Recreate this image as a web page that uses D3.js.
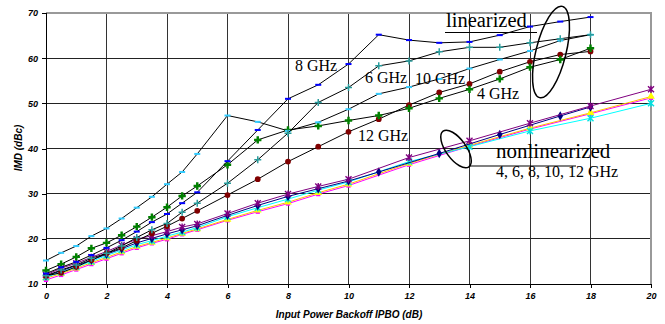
<!DOCTYPE html>
<html>
<head>
<meta charset="utf-8">
<script src="https://cdn.jsdelivr.net/npm/d3@7"></script>
<style>
  body { margin: 0; background: #fff; }
</style>
</head>
<body>
<div class="chart"></div>
<script>
// linearized curves (black lines, coloured markers)
const linX = [0, 0.5, 1, 1.5, 2, 2.5, 3, 3.5, 4, 4.5, 5, 6, 7, 8, 9, 10, 11, 12, 13, 14, 15, 16, 17, 18];
const lin8GHz = [12.3, 13.7, 14.9, 16.4, 18.0, 19.7, 21.6, 23.7, 25.5, 27.9, 30.3, 37.2, 44.1, 51.0, 54.1, 58.7, 65.2, 64.0, 63.4, 63.6, 65.1, 67.0, 68.1, 69.1];
const lin6GHz = [11.8, 13.1, 14.2, 15.7, 16.8, 18.4, 20.3, 22.0, 23.4, 25.9, 27.9, 32.3, 37.5, 43.4, 50.2, 53.5, 58.3, 59.4, 61.4, 62.4, 62.4, 63.4, 64.3, 65.2];
const lin10GHz = [15.2, 16.9, 18.4, 20.6, 22.3, 24.5, 26.9, 29.3, 32.1, 34.8, 38.8, 47.3, 45.9, 43.9, 45.8, 48.7, 52.1, 53.6, 55.4, 57.7, 59.7, 61.6, 63.9, 65.2];
const lin4GHz = [13.0, 14.4, 16.0, 17.9, 19.1, 20.8, 22.7, 24.8, 27.0, 29.5, 31.7, 36.4, 41.9, 44.1, 45.0, 46.2, 47.3, 48.9, 51.1, 53.1, 55.4, 58.0, 59.7, 62.2];
const lin12GHz = [11.8, 12.5, 13.8, 15.3, 16.8, 18.0, 19.6, 21.2, 22.8, 24.5, 26.2, 29.7, 33.2, 37.1, 40.4, 43.7, 46.5, 49.6, 52.4, 54.3, 57.0, 59.2, 60.8, 61.5];

// nonlinearized curves (coloured lines)
const nlX = [0, 0.5, 1, 1.5, 2, 2.5, 3, 3.5, 4, 4.5, 5, 6, 7, 8, 9, 10, 12, 14, 16, 18, 20];
const nlNavyX = [0, 0.5, 1, 1.5, 2, 2.5, 3, 3.5, 4, 4.5, 5, 6, 7, 8, 9, 10, 11, 13, 15, 17, 18];
const nlMagenta = [10.9, 12.0, 13.2, 14.4, 15.6, 16.8, 18.0, 19.0, 19.9, 21.0, 22.0, 24.1, 26.0, 27.8, 29.9, 31.8, 36.4, 40.5, 44.3, 47.7, 51.2];
const nlYellow = [11.3, 12.3, 13.5, 14.7, 15.9, 17.1, 18.3, 19.2, 20.2, 21.2, 22.2, 24.3, 26.3, 28.1, 30.2, 32.1, 36.7, 40.7, 44.5, 47.9, 51.5];
const nlCyan = [11.5, 12.6, 13.8, 15.0, 16.3, 17.5, 18.7, 19.6, 20.6, 21.5, 22.5, 24.9, 26.9, 28.8, 30.8, 32.6, 37.1, 40.4, 43.9, 46.7, 50.0];
const nlNavy = [11.8, 12.9, 14.1, 15.3, 16.6, 17.8, 19.1, 20.1, 21.1, 22.0, 22.9, 25.2, 27.4, 29.4, 31.1, 32.8, 34.8, 38.9, 43.1, 47.2, 49.2];
const nlPurple = [12.0, 13.5, 14.6, 15.9, 17.2, 18.6, 19.9, 20.7, 21.6, 22.6, 23.3, 25.6, 27.9, 29.9, 31.6, 33.2, 38.0, 41.7, 45.6, 49.4, 53.1];

const xTicks = [0, 2, 4, 6, 8, 10, 12, 14, 16, 18, 20];
const yTicks = [10, 20, 30, 40, 50, 60, 70];

const W = 665, H = 324;
const m = { left: 46, right: 14, top: 13, bottom: 40 };

const svg = d3.select('.chart').append('svg')
  .attr('width', W).attr('height', H)
  .style('font-family', 'Arial, "Liberation Sans", sans-serif');

const x = d3.scaleLinear([0, 20], [m.left, W - m.right]);
const y = d3.scaleLinear([10, 70], [H - m.bottom, m.top]);

// grid
svg.append('g').selectAll('line').data(xTicks.slice(1, -1)).enter().append('line')
  .attr('x1', d => x(d)).attr('x2', d => x(d))
  .attr('y1', y(70)).attr('y2', y(10))
  .attr('stroke', '#333').attr('stroke-width', 1).attr('shape-rendering', 'crispEdges');
svg.append('g').selectAll('line').data(yTicks.slice(1, -1)).enter().append('line')
  .attr('x1', x(0)).attr('x2', x(20))
  .attr('y1', d => y(d)).attr('y2', d => y(d))
  .attr('stroke', '#222').attr('stroke-width', 1).attr('shape-rendering', 'crispEdges');
// gray frame top/right
svg.append('path')
  .attr('d', `M${x(0)},${y(70)}H${x(20)}V${y(10)}`)
  .attr('fill', 'none').attr('stroke', '#999').attr('stroke-width', 1.5)
  .attr('shape-rendering', 'crispEdges');

// axes
const xAxis = svg.append('g').attr('transform', `translate(0,${y(10)})`)
  .call(d3.axisBottom(x).tickValues(xTicks).tickSize(4).tickPadding(5));
const yAxis = svg.append('g').attr('transform', `translate(${x(0)},0)`)
  .call(d3.axisLeft(y).tickValues(yTicks).tickSize(4).tickPadding(4));
[xAxis, yAxis].forEach(a => {
  a.selectAll('path,line').attr('stroke', '#000').attr('shape-rendering', 'crispEdges');
  a.selectAll('text').attr('font-size', 9).attr('font-weight', 'bold')
    .attr('font-style', 'italic').attr('fill', '#000')
    .attr('font-family', 'Arial, "Liberation Sans", sans-serif');
});

svg.append('text')
  .attr('x', 349).attr('y', 318).attr('text-anchor', 'middle')
  .attr('font-size', 10).attr('font-weight', 'bold').attr('font-style', 'italic')
  .text('Input Power Backoff IPBO (dB)');
svg.append('text')
  .attr('transform', 'translate(22,148) rotate(-90)').attr('text-anchor', 'middle')
  .attr('font-size', 10).attr('font-weight', 'bold').attr('font-style', 'italic')
  .text('IMD (dBc)');

// markers
function marker(g, type, color) {
  if (type === 'dash') {
    g.append('rect').attr('x', -3).attr('y', -1).attr('width', 6).attr('height', 2).attr('fill', color);
  } else if (type === 'plus') {
    g.append('path').attr('d', 'M-3.5,0H3.5M0,-3.5V3.5').attr('stroke', color).attr('stroke-width', 1.5);
  } else if (type === 'star') {
    g.append('path').attr('d', 'M-3,-3L3,3M-3,3L3,-3M0,-3.5V3.5')
      .attr('stroke', color).attr('stroke-width', 1.4);
  } else {
    const sym = { circle: d3.symbolCircle, cross: d3.symbolCross, diamond: d3.symbolDiamond,
      square: d3.symbolSquare, triangle: d3.symbolTriangle }[type];
    const size = { circle: 26, cross: 30, diamond: 26, square: 18, triangle: 26 }[type];
    g.append('path').attr('d', d3.symbol(sym, size)()).attr('fill', color);
  }
}

function series(xs, ys, lineColor, type, markColor) {
  const pts = xs.map((d, i) => [d, ys[i]]);
  const line = d3.line().x(d => x(d[0])).y(d => y(d[1]));
  svg.append('path').datum(pts).attr('d', line)
    .attr('fill', 'none').attr('stroke', lineColor).attr('stroke-width', 1);
  svg.append('g').selectAll('g').data(pts).enter().append('g')
    .attr('transform', d => `translate(${x(d[0])},${y(d[1])})`)
    .each(function () { marker(d3.select(this), type, markColor); });
}

series(nlX, nlMagenta, '#ff00ff', 'square', '#ff00ff');
series(nlX, nlYellow, '#ffc000', 'triangle', '#ffff00');
series(nlX, nlCyan, '#00ffff', 'star', '#00e0e0');
series(nlNavyX, nlNavy, '#000080', 'diamond', '#000080');
series(nlX, nlPurple, '#800080', 'star', '#800080');

series(linX, lin12GHz, '#000', 'circle', '#800000');
series(linX, lin4GHz, '#000', 'cross', '#008000');
series(linX, lin10GHz, '#000', 'dash', '#33ccff');
series(linX, lin6GHz, '#000', 'plus', '#2a9d9d');
series(linX, lin8GHz, '#000', 'dash', '#0000ff');

// annotations
const serif = '"Liberation Serif", "Times New Roman", serif';
const notes = [
  ['8 GHz', 295, 71, 16], ['6 GHz', 365, 83, 16], ['10 GHz', 415, 84, 16],
  ['4 GHz', 477, 99, 16], ['12 GHz', 358, 141, 16],
  ['linearized', 446, 27, 20.5], ['nonlinearized', 496, 158, 21],
  ['4, 6, 8, 10, 12 GHz', 496, 177, 16]
];
svg.append('g').selectAll('text').data(notes).enter().append('text')
  .attr('x', d => d[1]).attr('y', d => d[2]).attr('font-size', d => d[3])
  .attr('font-family', serif).attr('fill', '#000').text(d => d[0]);

svg.append('line').attr('x1', 445).attr('x2', 537).attr('y1', 32.5).attr('y2', 32.5)
  .attr('stroke', '#000').attr('stroke-width', 1.2);
svg.append('ellipse').attr('cx', 0).attr('cy', 0).attr('rx', 15).attr('ry', 47)
  .attr('transform', 'translate(551,52) rotate(14)')
  .attr('fill', 'none').attr('stroke', '#000').attr('stroke-width', 1.5);

svg.append('line').attr('x1', 470).attr('x2', 576).attr('y1', 166).attr('y2', 166)
  .attr('stroke', '#000').attr('stroke-width', 1.2);
svg.append('ellipse').attr('cx', 0).attr('cy', 0).attr('rx', 10).attr('ry', 22)
  .attr('transform', 'translate(456,149) rotate(-36)')
  .attr('fill', 'none').attr('stroke', '#000').attr('stroke-width', 1.5);
</script>
</body>
</html>
